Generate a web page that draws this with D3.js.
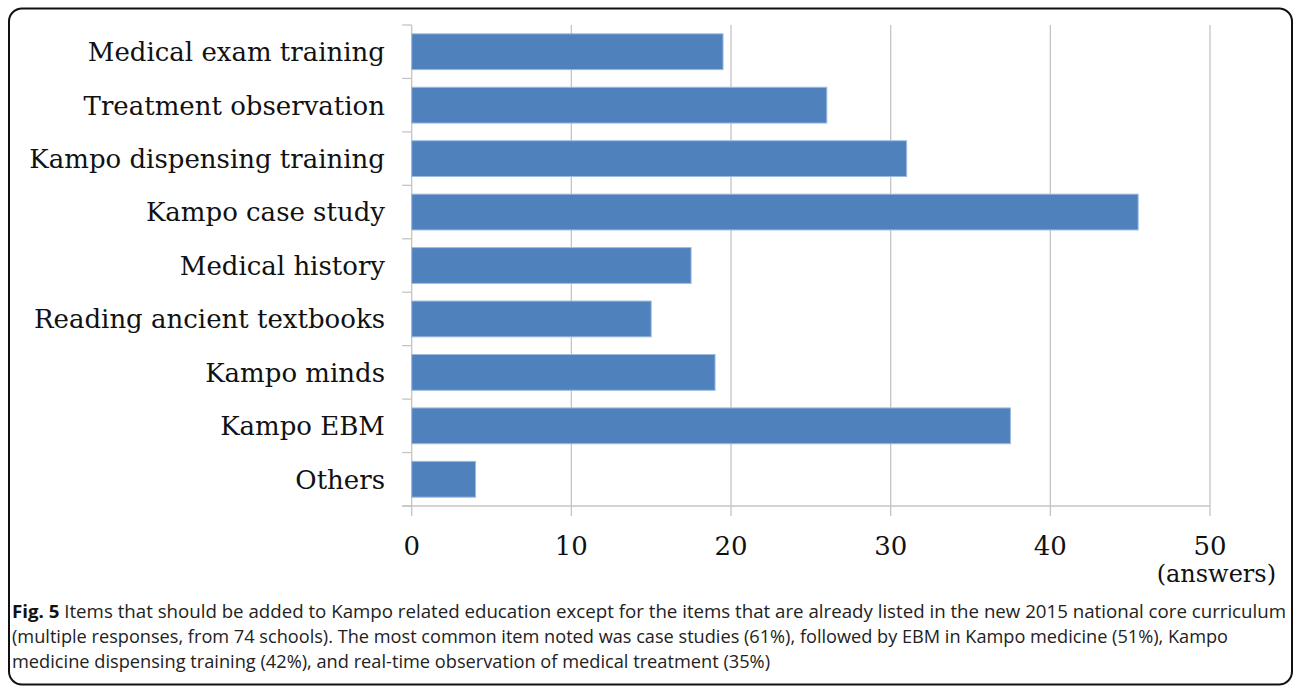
<!DOCTYPE html>
<html>
<head>
<meta charset="utf-8">
<script src="https://cdn.jsdelivr.net/npm/d3@7"></script>
<style>
  html, body { margin: 0; padding: 0; background: #fff; }
  svg { display: block; }
</style>
</head>
<body>
<svg id="chart" width="1295" height="687"></svg>
<script>
// Items suggested for Kampo-related education (number of answers)
const categories = [
  "Medical exam training",
  "Treatment observation",
  "Kampo dispensing training",
  "Kampo case study",
  "Medical history",
  "Reading ancient textbooks",
  "Kampo minds",
  "Kampo EBM",
  "Others"
];
const answers = [19.5, 26, 31, 45.5, 17.5, 15, 19, 37.5, 4];
const xTicks = [0, 10, 20, 30, 40, 50];
const unitLabel = "(answers)";
const captionLead = "Fig. 5";
const captionLines = [
  " Items that should be added to Kampo related education except for the items that are already listed in the new 2015 national core curriculum",
  "(multiple responses, from 74 schools). The most common item noted was case studies (61%), followed by EBM in Kampo medicine (51%), Kampo",
  "medicine dispensing training (42%), and real-time observation of medical treatment (35%)"
];

const svg = d3.select("#chart");
const W = 1295, H = 687;

// rounded frame around figure + caption
svg.append("rect")
  .attr("x", 9).attr("y", 8.5)
  .attr("width", 1283).attr("height", 676)
  .attr("rx", 13).attr("ry", 13)
  .attr("fill", "#fff")
  .attr("stroke", "#111").attr("stroke-width", 2);

const plot = { left: 411.7, right: 1210, top: 25, bottom: 506 };

const x = d3.scaleLinear().domain([0, 50]).range([plot.left, plot.right]);
const y = d3.scaleBand().domain(categories)
  .range([plot.top, plot.bottom])
  .paddingInner(0.33).paddingOuter(0.165);

const gridColor = "#c4c4c4";
const serif = "'DejaVu Serif', 'Liberation Serif', serif";

// vertical gridlines (ticks extend below the axis)
svg.append("g").selectAll("line")
  .data(xTicks)
  .join("line")
  .attr("x1", d => x(d)).attr("x2", d => x(d))
  .attr("y1", plot.top).attr("y2", plot.bottom + 10)
  .attr("stroke", gridColor).attr("stroke-width", 1.3);

// category boundary ticks on the left axis
const step = y.step();
const bounds = d3.range(categories.length + 1).map(i => plot.top + i * step);
svg.append("g").selectAll("line")
  .data(bounds)
  .join("line")
  .attr("x1", plot.left - 9.5).attr("x2", plot.left)
  .attr("y1", d => d).attr("y2", d => d)
  .attr("stroke", gridColor).attr("stroke-width", 1.3);

// horizontal axis line
svg.append("line")
  .attr("x1", plot.left - 9.5).attr("x2", plot.right)
  .attr("y1", plot.bottom).attr("y2", plot.bottom)
  .attr("stroke", gridColor).attr("stroke-width", 1.3);

// bars
svg.append("g").selectAll("rect")
  .data(categories.map((c, i) => ({ c, v: answers[i] })))
  .join("rect")
  .attr("x", x(0))
  .attr("y", d => y(d.c))
  .attr("width", d => x(d.v) - x(0))
  .attr("height", y.bandwidth())
  .attr("fill", "#4f81bd")
  .attr("stroke", "#9dbbe0").attr("stroke-width", 1);

// category labels
svg.append("g").selectAll("text")
  .data(categories)
  .join("text")
  .attr("x", 385)
  .attr("y", d => y(d) + y.bandwidth() / 2)
  .attr("dy", "0.36em")
  .attr("text-anchor", "end")
  .attr("font-family", serif)
  .attr("font-size", 26)
  .attr("fill", "#111")
  .text(d => d);

// x tick labels
svg.append("g").selectAll("text")
  .data(xTicks)
  .join("text")
  .attr("x", d => x(d))
  .attr("y", 555)
  .attr("text-anchor", "middle")
  .attr("font-family", serif)
  .attr("font-size", 26)
  .attr("fill", "#111")
  .text(d => d);

svg.append("text")
  .attr("x", 1276).attr("y", 582)
  .attr("text-anchor", "end")
  .attr("font-family", serif)
  .attr("font-size", 24)
  .attr("fill", "#111")
  .text(unitLabel);

// caption
const sans = "'Open Sans', 'Noto Sans', sans-serif";
const capWidths = [1274, 1216, 758];
const capY = [618, 643, 668];
captionLines.forEach((line, i) => {
  const t = svg.append("text")
    .attr("x", 12).attr("y", capY[i])
    .attr("font-family", sans)
    .attr("font-size", 18)
    .attr("fill", "#222")
    .attr("textLength", capWidths[i])
    .attr("lengthAdjust", "spacingAndGlyphs");
  if (i === 0) {
    t.append("tspan").attr("font-weight", "bold").attr("fill", "#111").text(captionLead);
  }
  t.append("tspan").text(line);
});
</script>
</body>
</html>
